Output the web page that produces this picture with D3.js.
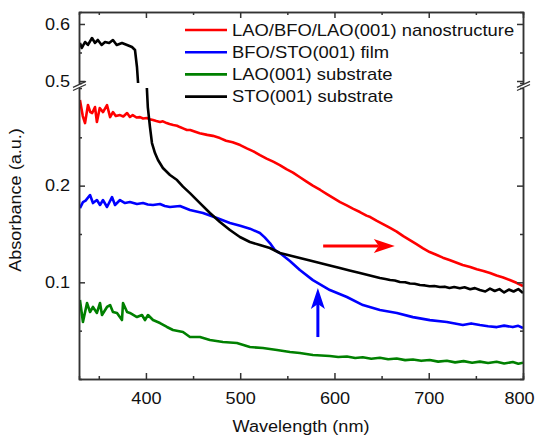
<!DOCTYPE html>
<html lang="en">
<head>
    <meta charset="UTF-8">
    <title>absorbance spectra</title>
    <script src="https://d3js.org/d3.v7.min.js"></script>
    <style>
        body { margin: 0; background: #fff; }
        svg { display: block; }
    </style>
</head>
<body>
    <svg></svg>
    <script>
        // LAO/BFO/LAO(001) nanostructure
        const nanoNm  = [330, 333, 335.4, 338.5, 341, 343, 346, 348, 351, 354.5, 358.7, 362, 365, 368, 372.5, 376, 380, 383, 386, 390, 393.7, 397, 401, 404, 407.5, 411, 415, 418, 422, 425, 429, 433, 436, 440, 443.5, 447, 450, 457, 465, 471, 478.5, 485, 492, 500, 507, 514, 521, 528, 535, 542, 549, 556, 563, 570, 577, 585, 592, 599, 606, 613, 620, 627, 634, 638, 645, 652, 659, 666, 673, 680, 687, 694, 701, 708, 715, 722, 729, 736, 744, 751, 758, 765, 772, 779, 786, 793, 800];
        const nanoAbs = [0.2885, 0.272, 0.2647, 0.2834, 0.276, 0.2751, 0.2813, 0.2658, 0.2802, 0.2761, 0.2834, 0.2709, 0.2761, 0.272, 0.273, 0.2715, 0.2751, 0.271, 0.273, 0.2705, 0.2709, 0.2695, 0.2699, 0.2688, 0.2678, 0.2668, 0.2658, 0.2665, 0.2647, 0.2637, 0.2627, 0.262, 0.2606, 0.259, 0.2575, 0.2575, 0.2565, 0.2543, 0.2525, 0.2515, 0.2492, 0.2465, 0.2448, 0.242, 0.2385, 0.2355, 0.2316, 0.228, 0.2248, 0.2213, 0.217, 0.2135, 0.2089, 0.2045, 0.2, 0.1955, 0.1912, 0.187, 0.183, 0.1795, 0.176, 0.1727, 0.169, 0.1675, 0.1635, 0.16, 0.1562, 0.1525, 0.1478, 0.1437, 0.1395, 0.1352, 0.1313, 0.1285, 0.1255, 0.1231, 0.1205, 0.118, 0.1158, 0.1135, 0.1118, 0.1096, 0.107, 0.105, 0.1024, 0.0995, 0.0962];

        // BFO/STO(001) film
        const filmNm  = [330, 333.2, 336, 340.7, 343.8, 348, 351.3, 354.5, 358.7, 364, 367.2, 372.5, 377.8, 383, 390.5, 396.9, 402, 407.5, 414.9, 420, 425.5, 436.1, 446.7, 460.5, 475.3, 489.1, 500, 510.3, 520.9, 526, 531.5, 536.8, 542.1, 552.7, 563.3, 577.1, 595.1, 613.2, 630.2, 648.2, 666.2, 683.2, 701.2, 719.2, 736.2, 745, 754.2, 763, 772.3, 780, 789.2, 795, 800];
        const filmAbs = [0.1768, 0.183, 0.1845, 0.1903, 0.182, 0.1851, 0.18, 0.1851, 0.1779, 0.1882, 0.18, 0.1851, 0.182, 0.183, 0.181, 0.182, 0.1805, 0.18, 0.181, 0.179, 0.1779, 0.1789, 0.1748, 0.1717, 0.1665, 0.1613, 0.1585, 0.1555, 0.151, 0.1465, 0.1406, 0.1334, 0.1303, 0.122, 0.1127, 0.1023, 0.092, 0.0848, 0.0765, 0.0713, 0.0682, 0.064, 0.0609, 0.0589, 0.0558, 0.0575, 0.0558, 0.0545, 0.0537, 0.0552, 0.0537, 0.055, 0.0527];

        // LAO(001) substrate
        const laoNm  = [330, 333.2, 337.5, 340.7, 343.8, 348, 351.3, 353.4, 358.7, 362, 365, 369.3, 374.6, 375.7, 380, 383, 390.5, 395.8, 399, 402.2, 407.5, 414.9, 422.3, 428.7, 439.3, 446.7, 457.3, 467.9, 481.7, 496.5, 510.3, 524.1, 539, 552.8, 563.3, 577.1, 595, 604, 613.2, 622, 630, 639, 648.2, 657, 666, 675, 683.2, 692, 701, 710, 719.2, 728, 737, 746, 754.2, 763, 772, 780, 789.2, 795, 800];
        const laoAbs = [0.0817, 0.059, 0.0786, 0.0693, 0.0745, 0.0683, 0.0786, 0.0662, 0.0745, 0.0765, 0.0693, 0.0683, 0.061, 0.0786, 0.0693, 0.0683, 0.0641, 0.0662, 0.061, 0.0662, 0.061, 0.0579, 0.0538, 0.0507, 0.0486, 0.0434, 0.0434, 0.0403, 0.0383, 0.0372, 0.0331, 0.032, 0.03, 0.0279, 0.0269, 0.0248, 0.0238, 0.0228, 0.0232, 0.0218, 0.0225, 0.021, 0.022, 0.0205, 0.0212, 0.0195, 0.0202, 0.0188, 0.0196, 0.018, 0.0188, 0.0172, 0.0185, 0.0168, 0.018, 0.0165, 0.0178, 0.016, 0.0175, 0.0158, 0.0168];

        // STO(001) substrate
        const stoNm  = [330, 332, 335.4, 338.5, 342.8, 346, 349, 353, 356.6, 361, 365, 369, 374.6, 380, 385.2, 388.4, 390.5, 391.6, 401, 402, 404.3, 406.4, 409.6, 412.8, 418, 425.5, 433, 439.3, 446.7, 457.3, 467.9, 478.5, 489.1, 499.7, 510.3, 520.9, 531.5, 542.1, 552.7, 563.3, 574, 584.5, 595, 605.7, 616, 627, 637.6, 648.2, 654, 659, 664, 669.4, 675, 680, 685, 690.6, 696, 701, 706, 711.8, 717, 722, 727, 733, 738, 744, 749, 754.2, 760, 765, 770, 775, 780, 785, 790, 795, 800];
        const stoAbs = [0.5667, 0.5579, 0.5684, 0.5632, 0.5754, 0.5667, 0.5719, 0.5632, 0.5684, 0.5667, 0.5719, 0.5632, 0.5667, 0.5632, 0.5596, 0.5544, 0.5246, 0.4982, 0.3009, 0.2813, 0.2606, 0.2441, 0.2337, 0.2265, 0.2182, 0.211, 0.2058, 0.199, 0.1923, 0.182, 0.1717, 0.1624, 0.1541, 0.1469, 0.1417, 0.1386, 0.1355, 0.1303, 0.1277, 0.1251, 0.1225, 0.12, 0.1174, 0.1148, 0.1122, 0.1096, 0.107, 0.1044, 0.1035, 0.1024, 0.1018, 0.1003, 0.1, 0.0988, 0.0985, 0.0972, 0.0968, 0.096, 0.0962, 0.0951, 0.0955, 0.0942, 0.0952, 0.0938, 0.0948, 0.0928, 0.094, 0.092, 0.0905, 0.0935, 0.091, 0.093, 0.0895, 0.0925, 0.0905, 0.093, 0.089];

        const seriesNames = ['LAO/BFO/LAO(001) nanostructure', 'BFO/STO(001) film', 'LAO(001) substrate', 'STO(001) substrate'];
        const seriesColors = ['#ff0000', '#0000ff', '#008000', '#000000'];

        const xMajor = [400, 500, 600, 700, 800];
        const xMinor = [350, 450, 550, 650, 750];
        const yLoMajor = [0.1, 0.2];
        const yLoMinor = [0.05, 0.15, 0.25];
        const yHiMajor = [0.5, 0.6];
        const yHiMinor = [0.55];

        // arrows: [wavelength, absorbance] tail -> tip
        const redArrow = [[588, 0.1375], [664, 0.1375]];
        const blueArrow = [[582.4, 0.0434], [582.4, 0.0941]];

        const svgWidth = 537, svgHeight = 437;
        const margin = { top: 12, right: 14, bottom: 58, left: 79 };
        const width = svgWidth - margin.left - margin.right;
        const height = svgHeight - margin.top - margin.bottom;
        const hiBottom = 71, loTop = 76;   // the broken axis
        const sx = 1.13;                   // text is a bit wider than Arial
        const font = 'Liberation Sans, Arial, Helvetica, sans-serif';
        const axisColor = '#333';

        const svg = d3.select('svg').attr('width', svgWidth).attr('height', svgHeight);
        const g = svg.append('g').attr('transform', `translate(${margin.left},${margin.top})`);

        const x = d3.scaleLinear().domain([329, 800]).range([0, width]);
        const yHi = d3.scaleLinear().domain([0.4965, 0.621]).range([hiBottom, 0]);
        const yLo = d3.scaleLinear().domain([0, 0.301]).range([height, loTop]);

        const defs = svg.append('defs');
        defs.append('clipPath').attr('id', 'clipHi').append('rect')
            .attr('x', 0).attr('y', 0).attr('width', width).attr('height', hiBottom);
        defs.append('clipPath').attr('id', 'clipLo').append('rect')
            .attr('x', 0).attr('y', loTop).attr('width', width).attr('height', height - loTop);

        const series = [
            { nm: nanoNm, abs: nanoAbs },
            { nm: filmNm, abs: filmAbs },
            { nm: laoNm, abs: laoAbs },
            { nm: stoNm, abs: stoAbs }
        ].map((s, i) => ({
            name: seriesNames[i],
            color: seriesColors[i],
            values: s.nm.map((w, j) => ({ w: w, a: s.abs[j] }))
        }));

        [['clipHi', yHi], ['clipLo', yLo]].forEach(([clip, y]) => {
            const line = d3.line().x(d => x(d.w)).y(d => y(d.a));
            g.append('g').attr('clip-path', `url(#${clip})`)
                .selectAll('path').data(series).join('path')
                .attr('fill', 'none')
                .attr('stroke', d => d.color)
                .attr('stroke-width', 2.6)
                .attr('stroke-linejoin', 'round')
                .attr('d', d => line(d.values));
        });

        function styleAxis(sel) {
            sel.attr('font-family', font).attr('font-size', 16);
            sel.selectAll('.domain, line').attr('stroke', axisColor).attr('stroke-width', 1.5);
            sel.selectAll('text').attr('fill', '#111');
        }

        function drawAxis(axis, transform, labels) {
            const a = g.append('g').attr('transform', transform).call(axis);
            styleAxis(a);
            if (!labels) a.selectAll('text').remove();
            return a;
        }

        // bottom + top
        drawAxis(d3.axisBottom(x).tickValues(xMajor).tickSizeInner(-6).tickSizeOuter(0).tickPadding(14),
            `translate(0,${height})`, true)
            .selectAll('text')
            .attr('x', d => d === 800 ? -4 / sx : 0)
            .attr('transform', `scale(${sx},1)`);
        drawAxis(d3.axisBottom(x).tickValues(xMinor).tickSize(-3), `translate(0,${height})`, false);
        drawAxis(d3.axisTop(x).tickValues(xMajor).tickSizeInner(-6).tickSizeOuter(0), 'translate(0,0)', false);
        drawAxis(d3.axisTop(x).tickValues(xMinor).tickSize(-3), 'translate(0,0)', false);

        // left and right, both pieces
        const fmt = d3.format('.1f');
        [[yLo, yLoMajor, yLoMinor], [yHi, yHiMajor, yHiMinor]].forEach(([y, major, minor]) => {
            drawAxis(d3.axisLeft(y).tickValues(major).tickSizeInner(-6).tickSizeOuter(0).tickPadding(9).tickFormat(fmt),
                'translate(0,0)', true)
                .selectAll('text').attr('x', -9 / sx).attr('transform', `scale(${sx},1)`);
            drawAxis(d3.axisLeft(y).tickValues(minor).tickSize(-3), 'translate(0,0)', false);
            drawAxis(d3.axisRight(y).tickValues(major).tickSizeInner(-6).tickSizeOuter(0), `translate(${width},0)`, false);
            drawAxis(d3.axisRight(y).tickValues(minor).tickSize(-3), `translate(${width},0)`, false);
        });

        // break marks
        [0, width].forEach(bx => {
            [0, 3.2].forEach(off => {
                g.append('line')
                    .attr('x1', bx - 6).attr('y1', 78.5 - off)
                    .attr('x2', bx + 7).attr('y2', 72.5 - off)
                    .attr('stroke', axisColor).attr('stroke-width', 1.3);
            });
        });

        // axis titles
        g.append('text')
            .attr('transform', `translate(${-58},${188}) rotate(-90) scale(${sx},1)`)
            .attr('text-anchor', 'middle')
            .attr('font-family', font).attr('font-size', 16).attr('fill', '#111')
            .text('Absorbance (a.u.)');
        g.append('text')
            .attr('transform', `translate(${width / 2},${height + 53}) scale(${sx},1)`)
            .attr('text-anchor', 'middle')
            .attr('font-family', font).attr('font-size', 16).attr('fill', '#111')
            .text('Wavelength (nm)');

        // legend
        const legend = g.selectAll('.legend').data(series).join('g')
            .attr('class', 'legend')
            .attr('transform', (d, i) => `translate(${106},${18 + i * 22.2})`);
        legend.append('line')
            .attr('x1', 0).attr('x2', 42)
            .attr('stroke', d => d.color).attr('stroke-width', 2.6);
        legend.append('text')
            .attr('transform', `translate(47,0) scale(1.15,1)`)
            .attr('dy', '0.36em')
            .attr('font-family', font).attr('font-size', 16).attr('fill', '#111')
            .text(d => d.name);

        // arrows
        function arrow(pts, color) {
            const [t0, t1] = pts.map(p => [x(p[0]), yLo(p[1])]);
            const ang = Math.atan2(t1[1] - t0[1], t1[0] - t0[0]);
            const len = 21, half = 7, notch = 16;
            const pt = (along, side) => [
                t1[0] - along * Math.cos(ang) - side * Math.sin(ang),
                t1[1] - along * Math.sin(ang) + side * Math.cos(ang)
            ];
            const shaft = pt(notch, 0);
            g.append('line')
                .attr('x1', t0[0]).attr('y1', t0[1]).attr('x2', shaft[0]).attr('y2', shaft[1])
                .attr('stroke', color).attr('stroke-width', 3);
            g.append('path')
                .attr('d', d3.line()([t1, pt(len, half), pt(notch, 0), pt(len, -half)]) + 'Z')
                .attr('fill', color);
        }
        arrow(redArrow, '#ff0000');
        arrow(blueArrow, '#0000ff');
    </script>
</body>
</html>
